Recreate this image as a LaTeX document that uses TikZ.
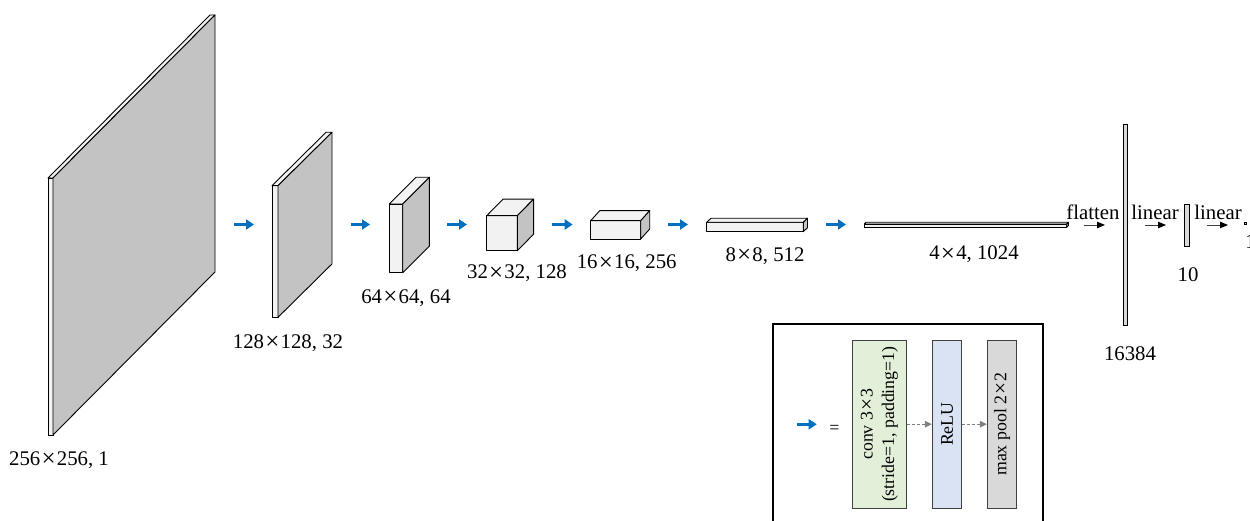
\documentclass[tikz,border=0pt]{standalone}
\usepackage{fontspec}
\setmainfont{Liberation Serif}
\usetikzlibrary{arrows.meta}
\definecolor{fmlight}{HTML}{F2F2F2}
\definecolor{fmgray}{HTML}{C3C3C3}
\definecolor{arrblue}{HTML}{0070C0}
\definecolor{lgreen}{HTML}{E2F0D9}
\definecolor{lblue}{HTML}{DAE3F3}
\definecolor{lgray}{HTML}{D9D9D9}
\newcommand\mul{\kern0.06em\raisebox{-0.12ex}{\scalebox{1.2}{×}}\kern0.06em}
\newcommand\fmap[6]{%
  \draw[fmface,fill=fmlight] (#1,#2) rectangle ++(#3,#4);
  \draw[fmface,fill=fmlight] (#1,#2) -- ++(#5,-#6) -- ++(#3,0) -- ++(-#5,#6) -- cycle;
  \draw[fmface,fill=fmgray] (#1+#3,#2) -- ++(#5,-#6) -- ++(0,#4) -- ++(-#5,#6) -- cycle;}
\begin{document}
\begin{tikzpicture}[x=1pt,y=-1pt,
  fmface/.style={draw=black,line width=0.9pt,line join=round},
  lbl/.style={font=\fontsize{20.8}{24}\selectfont,anchor=base,inner sep=0pt},
  barrow/.style={arrblue,line width=3pt,-{Triangle[length=8pt,width=10pt]}},
  karrow/.style={black!75,line width=0.9pt,-{Triangle[length=8pt,width=6.5pt,fill=black,color=black]}},
  lgbox/.style={draw=black!75,line width=0.9pt,rotate=90,minimum height=#1,minimum width=168.3pt,inner sep=0pt,align=center,font=\fontsize{17.8}{21.5}\selectfont},
  darrow/.style={gray,line width=0.9pt,dash pattern=on 3pt off 2pt,-{Triangle[length=7pt,width=6.5pt]}},
  vbar/.style={draw=black,line width=0.9pt,fill=lgray}]
\useasboundingbox (0,0) rectangle (1250,521);
\clip (0,0) rectangle (1250,521);
% feature maps
\fmap{48}{178}{5}{257}{162}{163}
\fmap{272}{185.7}{6}{131.6}{54}{53.4}
\fmap{389.3}{204}{13.4}{68.7}{26.7}{26.7}
\fmap{486.7}{215.7}{30.6}{35}{16.3}{16.5}
\fmap{590.7}{220.7}{50}{18.3}{9}{10}
\fmap{706.7}{222.3}{96.6}{9.4}{4.2}{4}
\fmap{864.3}{224}{202.4}{3.3}{1.7}{1.7}
% vectors
\draw[vbar] (1123.3,124) rectangle (1127.3,325.7);
\draw[vbar] (1184.3,204.3) rectangle (1189,246);
\draw[vbar,line width=0.6pt] (1244,222) rectangle (1246.5,224.5);
% labels
\node[lbl] (l1) at (59,465) {256\mul256, 1};
\node[lbl] (l2) at (288,348) {128\mul128, 32};
\node[lbl] (l3) at (406,303) {64\mul64, 64};
\node[lbl] (l4) at (517,279) {32\mul32, 128};
\node[lbl] (l5) at (626.7,269) {16\mul16, 256};
\node[lbl] (l6) at (765,261.7) {8\mul8, 512};
\node[lbl] (l7) at (974,260) {4\mul4, 1024};
\node[lbl] (l8) at (1130,360) {16384};
\node[lbl] (l9) at (1188,281.7) {10};
\node[lbl] (l10) at (1250.5,249) {1};
\node[lbl] (t1) at (1093,220) {flatten};
\node[lbl] (t2) at (1155,220) {linear};
\node[lbl] (t3) at (1218,220) {linear};
% blue arrows
\foreach \a/\b [count=\i] in {234/254,350.7/370,447/467,552/572.7,668/688,826/846}{
  \coordinate (ba\i) at (\a,224.5);
  \coordinate (bb\i) at (\b,224.5);
  \draw[barrow] (ba\i) -- (bb\i);}
% black arrows
\foreach \a/\b [count=\i] in {1084/1105,1145/1166,1207/1228}{
  \coordinate (ka\i) at (\a,225);
  \coordinate (kb\i) at (\b,225);
  \draw[karrow] (ka\i) -- (kb\i);}
% legend
\draw[line width=1.3pt] (773,324) rectangle (1043,540);
\coordinate (la) at (796.7,424.3);
\coordinate (lb) at (816.7,424.3);
\draw[barrow] (la) -- (lb);
\node[inner sep=0pt,font=\fontsize{17.8}{21}\selectfont] (eq) at (834.5,429.2) {=};
\node[lgbox=54.4pt,fill=lgreen] (conv) at (879.5,424.2) {conv 3\mul3\\(stride=1, padding=1)};
\node[lgbox=29.4pt,fill=lblue] (relu) at (947,424.2) {ReLU};
\node[lgbox=29.4pt,fill=lgray] (pool) at (1002,424.2) {max pool 2\mul2};
\draw[darrow] (conv.south) -- (relu.north);
\draw[darrow] (relu.south) -- (pool.north);
\end{tikzpicture}
\end{document}
